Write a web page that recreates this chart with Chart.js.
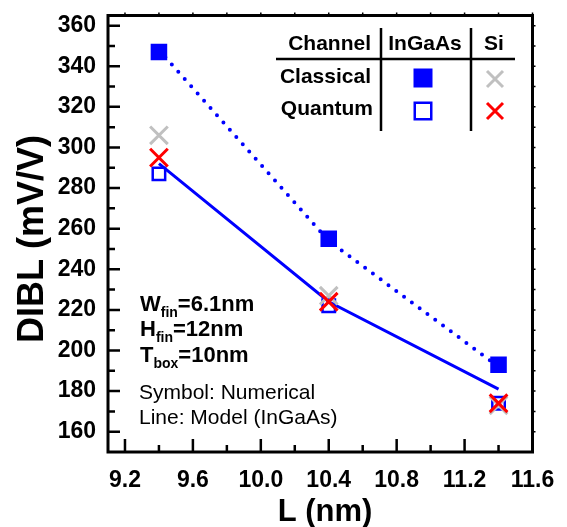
<!DOCTYPE html>
<html>
<head>
<meta charset="utf-8">
<script src="https://cdn.jsdelivr.net/npm/chart.js@4.4.0/dist/chart.umd.min.js"></script>
<style>
  html, body { margin: 0; padding: 0; background: #fff; }
  #dibl { display: block; }
</style>
</head>
<body>
<canvas id="dibl" width="567" height="527"></canvas>
<script>
// gate length (nm)
const lengths = [9.4, 10.4, 11.4];

// DIBL (mV/V), numerical results
const ingaasClassical = [347, 255, 193];
const ingaasQuantum = [287, 222, 174];
const siClassical = [306, 227, 173];
const siQuantum = [295, 224, 174];

// DIBL (mV/V), analytical model for InGaAs
const modelClassical = [348, 254, 192];
const modelQuantum = [292, 224, 181];

const xTicks = [9.2, 9.6, 10.0, 10.4, 10.8, 11.2, 11.6];
const xMinor = [9.4, 9.8, 10.2, 10.6, 11.0, 11.4];
const yTicks = [160, 180, 200, 220, 240, 260, 280, 300, 320, 340, 360];
const yMinor = [170, 190, 210, 230, 250, 270, 290, 310, 330, 350];

const FONT = '"Liberation Sans", Arial, sans-serif';
const BLUE = '#0000ff';
const GREY = '#c0c0c0';
const RED = '#ff0000';

const pts = (ys) => lengths.map((x, i) => ({ x: x, y: ys[i] }));

// symbols shared by the plot and the little table in the corner
function drawMark(ctx, kind, x, y, size) {
  ctx.save();
  const h = size / 2;
  if (kind == 'filled') {
    ctx.fillStyle = BLUE;
    ctx.fillRect(x - h, y - h, size, size);
  } else if (kind == 'open') {
    ctx.strokeStyle = BLUE;
    ctx.lineWidth = 2.5;
    ctx.strokeRect(x - h + 1.25, y - h + 1.25, size - 2.5, size - 2.5);
  } else {
    ctx.strokeStyle = kind == 'grey' ? GREY : RED;
    ctx.lineWidth = 3;
    const d = h - 1.5;
    ctx.beginPath();
    ctx.moveTo(x - d, y - d); ctx.lineTo(x + d, y + d);
    ctx.moveTo(x + d, y - d); ctx.lineTo(x - d, y + d);
    ctx.stroke();
  }
  ctx.restore();
}

// text with subscripts: parts = [[text, isSub], ...]
function subText(ctx, parts, x, y) {
  let cx = x;
  for (const [t, sub] of parts) {
    ctx.font = sub ? 'bold 14px ' + FONT : 'bold 22px ' + FONT;
    ctx.fillText(t, cx, sub ? y + 6 : y);
    cx += ctx.measureText(t).width;
  }
}

const framePlugin = {
  id: 'frame',
  afterDraw(chart) {
    const ctx = chart.ctx;
    const a = chart.chartArea;
    const xs = chart.scales.x, ys = chart.scales.y;
    ctx.save();
    ctx.strokeStyle = '#000';
    ctx.fillStyle = '#000';

    // inward ticks on bottom and left
    ctx.lineWidth = 2.5;
    ctx.beginPath();
    xTicks.forEach(v => { const p = xs.getPixelForValue(v); ctx.moveTo(p, a.bottom); ctx.lineTo(p, a.bottom - 13); });
    xMinor.forEach(v => { const p = xs.getPixelForValue(v); ctx.moveTo(p, a.bottom); ctx.lineTo(p, a.bottom - 7); });
    yTicks.forEach(v => { const p = ys.getPixelForValue(v); ctx.moveTo(a.left, p); ctx.lineTo(a.left + 12, p); });
    yMinor.forEach(v => { const p = ys.getPixelForValue(v); ctx.moveTo(a.left, p); ctx.lineTo(a.left + 7, p); });
    ctx.stroke();

    // short ticks on top and right
    ctx.lineWidth = 1.5;
    ctx.beginPath();
    xTicks.concat(xMinor).forEach(v => { const p = xs.getPixelForValue(v); ctx.moveTo(p, a.top); ctx.lineTo(p, a.top - 3); });
    yTicks.concat(yMinor).forEach(v => { const p = ys.getPixelForValue(v); ctx.moveTo(a.right, p); ctx.lineTo(a.right + 3, p); });
    ctx.stroke();

    ctx.lineWidth = 3;
    ctx.strokeRect(a.left, a.top, a.right - a.left, a.bottom - a.top);

    // tick labels
    ctx.font = 'bold 23px ' + FONT;
    ctx.textAlign = 'right';
    ctx.textBaseline = 'middle';
    yTicks.forEach(v => ctx.fillText(String(v), a.left - 12, ys.getPixelForValue(v)));
    ctx.textAlign = 'center';
    ctx.textBaseline = 'top';
    xTicks.forEach(v => ctx.fillText(v.toFixed(1), xs.getPixelForValue(v), a.bottom + 17));

    // axis titles
    ctx.textBaseline = 'alphabetic';
    ctx.font = 'bold 31px ' + FONT;
    ctx.fillText('L (nm)', 325, 521);
    ctx.save();
    ctx.translate(43, 239);
    ctx.rotate(-Math.PI / 2);
    ctx.font = 'bold 36px ' + FONT;
    ctx.fillText('DIBL (mV/V)', 0, 0);
    ctx.restore();
    ctx.restore();
  }
};

const notesPlugin = {
  id: 'notes',
  afterDraw(chart) {
    const ctx = chart.ctx;
    ctx.save();
    ctx.fillStyle = '#000';
    ctx.strokeStyle = '#000';

    // channel / model table
    ctx.font = 'bold 21px ' + FONT;
    ctx.textBaseline = 'alphabetic';
    ctx.textAlign = 'right';
    ctx.fillText('Channel', 371, 50);
    ctx.fillText('Classical', 371, 83);
    ctx.fillText('Quantum', 373, 115);
    ctx.textAlign = 'center';
    ctx.fillText('InGaAs', 425, 50);
    ctx.fillText('Si', 494, 50);

    ctx.lineWidth = 2.5;
    ctx.beginPath();
    ctx.moveTo(276, 59); ctx.lineTo(515, 59);
    ctx.moveTo(381, 28); ctx.lineTo(381, 131);
    ctx.moveTo(471, 28); ctx.lineTo(471, 131);
    ctx.stroke();

    drawMark(ctx, 'filled', 423, 78, 19);
    drawMark(ctx, 'open', 423, 111, 19);
    drawMark(ctx, 'grey', 495, 79, 19);
    drawMark(ctx, 'red', 495, 111, 19);

    // device parameters
    ctx.textAlign = 'left';
    subText(ctx, [['W', false], ['fin', true], ['=6.1nm', false]], 140, 311);
    subText(ctx, [['H', false], ['fin', true], ['=12nm', false]], 140, 336);
    subText(ctx, [['T', false], ['box', true], ['=10nm', false]], 140, 362);

    ctx.font = '21px ' + FONT;
    ctx.fillText('Symbol: Numerical', 139, 399);
    ctx.fillText('Line: Model (InGaAs)', 139, 424);
    ctx.restore();
  }
};

new Chart(document.getElementById('dibl'), {
  type: 'line',
  data: {
    datasets: [
      {
        label: 'Si quantum',
        data: pts(siQuantum),
        showLine: false,
        pointStyle: 'crossRot',
        pointRadius: 12.5,
        pointBorderWidth: 3,
        pointBorderColor: RED,
        order: 0
      },
      {
        label: 'Si classical',
        data: pts(siClassical),
        showLine: false,
        pointStyle: 'crossRot',
        pointRadius: 12.5,
        pointBorderWidth: 3,
        pointBorderColor: GREY,
        order: 1
      },
      {
        label: 'InGaAs classical',
        data: pts(ingaasClassical),
        showLine: false,
        pointStyle: 'rect',
        pointRadius: 11.7,
        pointBorderWidth: 0,
        pointBackgroundColor: BLUE,
        order: 2
      },
      {
        label: 'InGaAs quantum',
        data: pts(ingaasQuantum),
        showLine: false,
        pointStyle: 'rect',
        pointRadius: 8.8,
        pointBorderWidth: 2.5,
        pointBorderColor: BLUE,
        pointBackgroundColor: 'rgba(0,0,0,0)',
        order: 3
      },
      {
        label: 'Model classical',
        data: pts(modelClassical),
        borderColor: BLUE,
        borderWidth: 4,
        borderDash: [0, 9.7],
        borderCapStyle: 'round',
        pointRadius: 0,
        tension: 0,
        order: 4
      },
      {
        label: 'Model quantum',
        data: pts(modelQuantum),
        borderColor: BLUE,
        borderWidth: 3,
        pointRadius: 0,
        tension: 0,
        order: 5
      }
    ]
  },
  options: {
    responsive: false,
    animation: false,
    devicePixelRatio: 1,
    layout: { padding: { left: 108, right: 34.5, top: 10, bottom: 75 } },
    plugins: {
      legend: { display: false },
      tooltip: { enabled: false }
    },
    scales: {
      x: { type: 'linear', min: 9.1, max: 11.6, display: false },
      y: { type: 'linear', min: 150, max: 365, display: false }
    }
  },
  plugins: [framePlugin, notesPlugin]
});
</script>
</body>
</html>
